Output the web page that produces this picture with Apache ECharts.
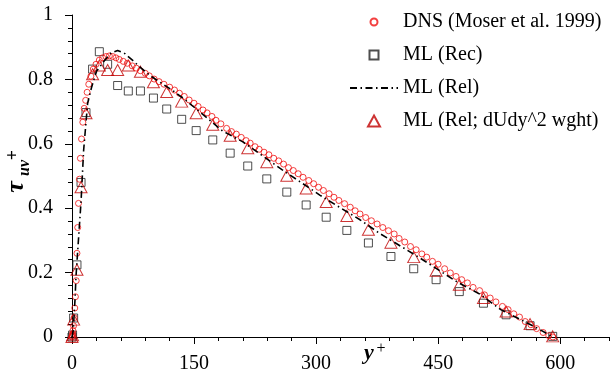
<!DOCTYPE html>
<html>
<head>
<meta charset="utf-8">
<script src="https://cdn.jsdelivr.net/npm/echarts@6/dist/echarts.min.js"></script>
<style>
  html, body { margin: 0; padding: 0; background: #fff; }
  #main { width: 610px; height: 375px; }
</style>
</head>
<body>
<div id="main"></div>
<script>
// DNS reference, Moser et al. 1999 : [y+, tau_uv+]
const dnsPoints = [
  [0, 0], [0.3, 0.004], [0.7, 0.01], [1.2, 0.02], [1.9, 0.035], [2.6, 0.06], [3.4, 0.09], [4.2, 0.125],
  [5.2, 0.175], [6.1, 0.26], [7.0, 0.34], [8.0, 0.415], [9.1, 0.49], [10.3, 0.555], [11.7, 0.615],
  [13.3, 0.667], [15.0, 0.71], [16.8, 0.735], [18.6, 0.76], [20.6, 0.785], [23.2, 0.81], [26.2, 0.832],
  [29.5, 0.847], [33.6, 0.86], [37.6, 0.867], [41.8, 0.871], [45.9, 0.873], [50, 0.871], [54, 0.867],
  [58, 0.862], [63, 0.856], [68, 0.85], [74, 0.842], [79, 0.835], [84, 0.827], [90, 0.819], [95, 0.811],
  [101, 0.801], [107, 0.793], [113, 0.785], [120, 0.776], [126, 0.767], [132, 0.757], [138, 0.747],
  [144, 0.736], [150, 0.726], [155, 0.716], [161, 0.705], [166, 0.696], [172, 0.685], [177, 0.673],
  [183, 0.662], [190, 0.648], [196, 0.638], [202, 0.63], [208, 0.62], [214, 0.61], [219, 0.602],
  [225, 0.591], [230, 0.583], [236, 0.574], [242, 0.566], [248, 0.555], [254, 0.547], [260, 0.537],
  [266, 0.526], [272, 0.517], [278, 0.507], [284, 0.496], [291, 0.486], [297, 0.476], [303, 0.465],
  [309, 0.455], [316, 0.445], [322, 0.434], [328, 0.424], [335, 0.414], [342, 0.403], [348, 0.392],
  [354, 0.382], [361, 0.371], [368, 0.361], [375, 0.351], [382, 0.34], [389, 0.33], [396, 0.32],
  [402, 0.306], [409, 0.295], [416, 0.281], [423, 0.271], [430, 0.258], [436, 0.248], [443, 0.235],
  [450, 0.226], [458, 0.212], [465, 0.199], [472, 0.188], [479, 0.178], [486, 0.168], [493, 0.154],
  [501, 0.144], [507, 0.131], [514, 0.121], [521, 0.109], [529, 0.095], [536, 0.085], [543, 0.072],
  [550, 0.062], [557, 0.048], [564, 0.038], [571, 0.026], [579, 0.014], [586, 0.004], [591, 0]
];

// ML results sit on one y+ grid
const mlY = [0, 0.7, 2.0, 6.1, 11.1, 17.2, 25.3, 33.6, 43.8, 56.1, 69.2, 84.1, 100.1, 116.4, 134.8,
  152.6, 173, 194.4, 216, 239.4, 264, 287.8, 312.4, 337.8, 364.3, 392, 420, 447.5, 476, 505.7, 533.5, 563, 590.8];
const recTau = [0, 0.006, 0.059, 0.224, 0.48, 0.697, 0.832, 0.886, 0.847, 0.781, 0.764, 0.764, 0.742,
  0.708, 0.676, 0.641, 0.612, 0.571, 0.531, 0.491, 0.45, 0.41, 0.372, 0.331, 0.292, 0.25, 0.212, 0.178,
  0.141, 0.105, 0.069, 0.035, 0.002];
const relWghtTau = [0, 0.005, 0.054, 0.209, 0.465, 0.695, 0.816, 0.843, 0.829, 0.829, 0.843, 0.824,
  0.791, 0.761, 0.731, 0.695, 0.659, 0.625, 0.586, 0.543, 0.501, 0.461, 0.419, 0.376, 0.333, 0.293,
  0.248, 0.206, 0.162, 0.121, 0.079, 0.04, 0.002];

// ML (Rel) curve : [y+, tau_uv+]
const relCurve = [
  [0, 0], [1.5, 0.02], [3.7, 0.116], [4.9, 0.188], [7.7, 0.293], [11.1, 0.42], [14.3, 0.58],
  [19.2, 0.726], [24, 0.775], [30, 0.825], [41, 0.862], [48, 0.882], [56, 0.89], [65, 0.88],
  [75, 0.858], [85, 0.835], [97, 0.81], [124, 0.765], [140, 0.735], [185, 0.64], [210, 0.606],
  [258, 0.52], [305, 0.44], [354, 0.364], [378, 0.322], [426, 0.248], [474, 0.17], [502, 0.132],
  [527, 0.085], [570, 0.03], [591, 0]
];

const xTickValues = [0, 150, 300, 450, 600];
const seriesNames = ['DNS (Moser et al. 1999)', 'ML (Rec)', 'ML (Rel)', 'ML (Rel; dUdy^2 wght)'];

const serif = '"Liberation Serif", "Times New Roman", serif';
const black = '#000';

// legend icons keep their aspect inside the wide item box
const circleIcon = 'path://M0,5A5,5,0,1,1,10,5A5,5,0,1,1,0,5Z';
const squareIcon = 'path://M0,0L10,0L10,10L0,10Z';
const triangleIcon = 'path://M6,0L12,11L0,11Z';

// the legend box starts at its visible icon, so markers are placed by their own width
const markerX = 373;

const legendBase = {
  orient: 'vertical',
  padding: 0,
  itemWidth: 48,
  selectedMode: false,
  symbolKeepAspect: true,
  textStyle: { fontFamily: serif, fontSize: 20, color: black }
};

const chart = echarts.init(document.getElementById('main'));
chart.setOption({
  animation: false,
  grid: { left: 72, right: 1, top: 15, bottom: 38 },
  legend: [
    { ...legendBase, left: markerX - 3.5, top: 12, itemHeight: 7,
      data: [{ name: seriesNames[0], icon: circleIcon }] },
    { ...legendBase, left: markerX - 4.5, top: 45, itemHeight: 9,
      data: [{ name: seriesNames[1], icon: squareIcon }] },
    { ...legendBase, left: markerX - 24, top: 78, itemHeight: 14,
      data: [seriesNames[2]] },
    { ...legendBase, left: markerX - 6, top: 111, itemHeight: 11,
      data: [{ name: seriesNames[3], icon: triangleIcon }] }
  ],
  xAxis: [
    {
      type: 'value', min: 0, max: 660, interval: 150, position: 'bottom',
      axisLine: { show: true, onZero: false, lineStyle: { color: black, width: 1 } },
      axisTick: { show: true, customValues: xTickValues, length: 7, lineStyle: { color: black } },
      axisLabel: { customValues: xTickValues, margin: 17, fontFamily: serif, fontSize: 20, color: black },
      splitLine: { show: false }
    },
    {
      // minor ticks every 30
      type: 'value', min: 0, max: 660, interval: 30, position: 'bottom',
      axisLine: { show: false },
      axisTick: { show: true, length: 4, lineStyle: { color: black } },
      axisLabel: { show: false },
      splitLine: { show: false }
    }
  ],
  yAxis: {
    type: 'value', min: 0, max: 1, interval: 0.2,
    axisLine: { show: true, lineStyle: { color: black, width: 1 } },
    axisTick: { show: true, length: 7, lineStyle: { color: black } },
    minorTick: { show: true, splitNumber: 5, length: 4, lineStyle: { color: black } },
    axisLabel: { margin: 19, fontFamily: serif, fontSize: 20, color: black },
    splitLine: { show: false }
  },
  series: [
    {
      name: seriesNames[1], type: 'scatter', symbol: 'rect', symbolSize: 8,
      data: mlY.map((y, i) => [y, recTau[i]]),
      itemStyle: { color: 'rgba(0,0,0,0)', borderColor: '#222', borderWidth: 1 }
    },
    {
      name: seriesNames[2], type: 'line', symbol: 'none', data: relCurve,
      itemStyle: { color: 'rgba(0,0,0,0)' },
      lineStyle: { color: black, width: 1.6, type: [7, 3.5, 1.5, 3.5] }
    },
    {
      name: seriesNames[3], type: 'scatter', symbol: 'triangle', symbolSize: [12, 11],
      data: mlY.map((y, i) => [y, relWghtTau[i]]),
      itemStyle: { color: 'rgba(0,0,0,0)', borderColor: '#c00000', borderWidth: 1 }
    },
    {
      name: seriesNames[0], type: 'scatter', symbol: 'circle', symbolSize: 6,
      data: dnsPoints,
      itemStyle: { color: 'rgba(0,0,0,0)', borderColor: '#f01010', borderWidth: 1 }
    }
  ],
  graphic: [
    { type: 'text', x: 16, y: 187, rotation: Math.PI / 2,
      style: { text: 'τ', font: 'bold italic 26px ' + serif, fill: black, align: 'center', verticalAlign: 'middle' } },
    { type: 'text', x: 25, y: 168, rotation: Math.PI / 2,
      style: { text: 'uv', font: 'bold italic 16px ' + serif, fill: black, align: 'center', verticalAlign: 'middle' } },
    { type: 'text', x: 13, y: 155, rotation: Math.PI / 2,
      style: { text: '+', font: 'bold 18px ' + serif, fill: black, align: 'center', verticalAlign: 'middle' } },
    { type: 'text', x: 369, y: 353,
      style: { text: 'y', font: 'bold italic 22px ' + serif, fill: black, align: 'center', verticalAlign: 'middle' } },
    { type: 'text', x: 381, y: 349,
      style: { text: '+', font: '16px ' + serif, fill: black, align: 'center', verticalAlign: 'middle' } }
  ]
});
</script>
</body>
</html>
